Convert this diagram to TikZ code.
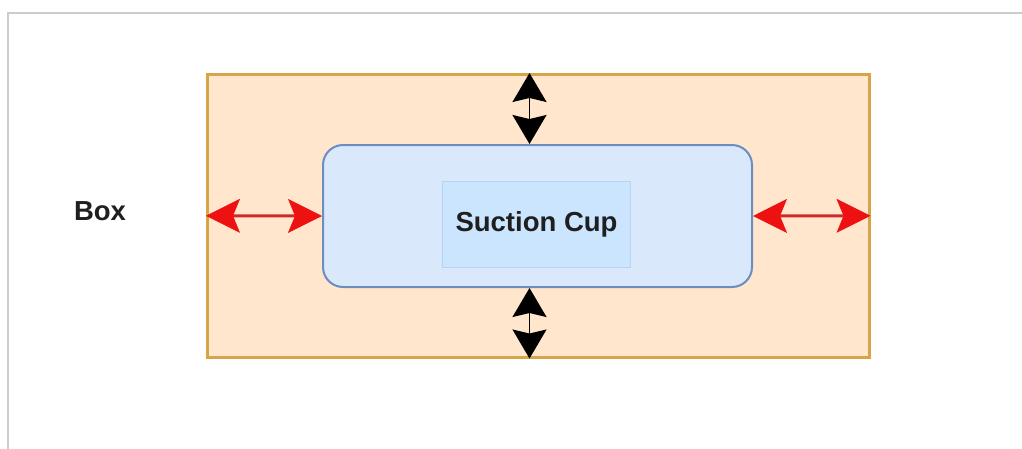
\documentclass[tikz,border=0pt]{standalone}
\usepackage{fontspec}
\setmainfont{Liberation Sans}
\usetikzlibrary{arrows.meta,calc}
\definecolor{frameGray}{HTML}{CCCCCC}
\definecolor{boxFill}{HTML}{FFE6CC}
\definecolor{boxLine}{HTML}{D6A548}
\definecolor{cupFill}{HTML}{DAE8FC}
\definecolor{cupLine}{HTML}{6C8EBF}
\definecolor{innerFill}{HTML}{CCE5FF}
\definecolor{innerLine}{HTML}{B5D3F3}
\definecolor{arrRed}{HTML}{CC2B2B}
\definecolor{headRed}{HTML}{EE1111}
\tikzset{
  lbl/.style={font=\bfseries\fontsize{27.5}{31}\selectfont, text=black!88},
  redarrow/.style={draw=arrRed, line width=3pt,
    {Stealth[length=34pt,width=34pt,inset=7pt,color=headRed,line width=0.5pt]}-{Stealth[length=34pt,width=34pt,inset=7pt,color=headRed,line width=0.5pt]}},
  blackarrow/.style={draw=black, line width=1.5pt,
    {Stealth[length=29pt,width=34pt,inset=4pt]}-{Stealth[length=29pt,width=34pt,inset=4pt]}},
}
\begin{document}
\begin{tikzpicture}[x=1pt,y=1pt]
\useasboundingbox (0,0) rectangle (1022,-448);
\fill[white] (0,0) rectangle (1022,-448);
\draw[frameGray, line width=2pt] (8,-460) -- (8,-13) -- (1030,-13);
\node[draw=boxLine, fill=boxFill, line width=2.5pt, minimum width=662pt, minimum height=283pt, inner sep=0pt, anchor=north west] (box) at (206,-73) {};
\node[draw=cupLine, fill=cupFill, line width=2pt, rounded corners=20pt, minimum width=429pt, minimum height=142pt, inner sep=0pt, anchor=north west] (cup) at (322,-144) {};
\node[draw=innerLine, fill=innerFill, line width=1pt, minimum width=188pt, minimum height=86pt, inner sep=0pt, anchor=north west, lbl] (inner) at (442,-181) {Suction Cup};
\node[lbl] (boxlabel) at (100,-211) {Box};
\draw[redarrow] (box.west) -- (cup.west);
\draw[redarrow] (cup.east) -- (box.east);
\coordinate (topA) at ($(cup.north)+(-8,0)$);
\coordinate (botA) at ($(cup.south)+(-8,0)$);
\draw[blackarrow] (box.north -| topA) -- (topA);
\draw[blackarrow] (botA) -- (box.south -| botA);
\end{tikzpicture}
\end{document}
